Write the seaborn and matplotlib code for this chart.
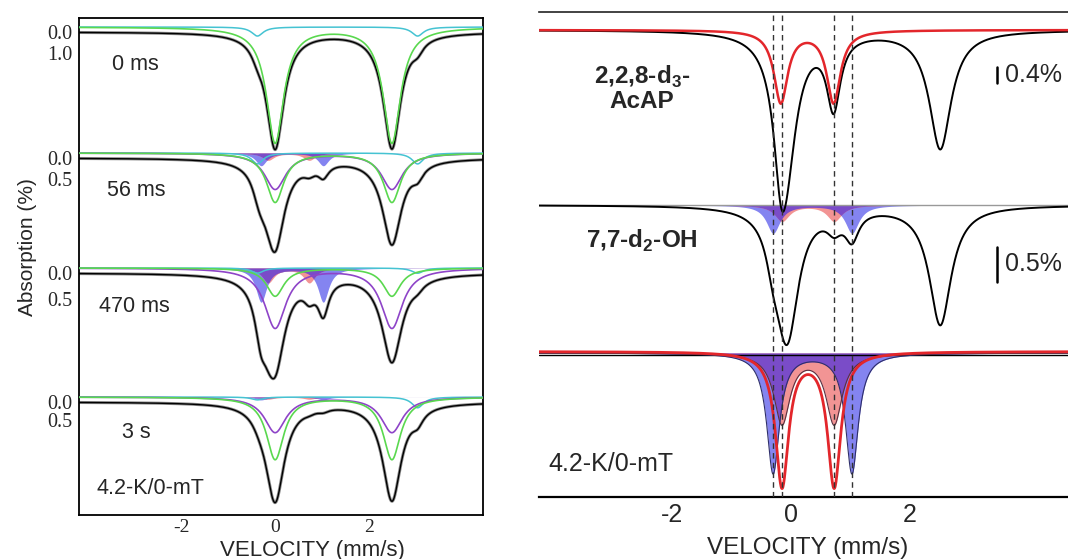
import numpy as np
import seaborn as sns
import matplotlib
matplotlib.use("Agg")
import matplotlib.pyplot as plt

# --- doublet line positions (mm/s) ---
main_lines = [0.0, 2.5]
cyan_lines = [-0.38, 3.05]
blue_lines = [-0.30, 1.03]
red_lines = [-0.15, 0.73]
dashed_lines = [-0.30, -0.15, 0.73, 1.03]

# --- left panel: freeze-quench series, depths in % absorption ---
time_labels = ["0 ms", "56 ms", "470 ms", "3 s"]
green_depth = [5.5, 1.17, 0.54, 1.73]
purple_depth = [0.0, 0.86, 1.15, 0.98]
cyan_depth_lo = [0.43, 0.26, 0.10, 0.08]
cyan_depth_hi = [0.43, 0.26, 0.10, 0.30]
blue_depth = [0.0, 0.30, 0.65, 0.08]
red_depth = [0.0, 0.17, 0.28, 0.06]
scale_tick = [1.0, 0.5, 0.5, 0.5]

# line widths (FWHM, mm/s)
w_green, w_purple, w_cyan, w_blue, w_red = 0.45, 0.55, 0.30, 0.28, 0.30

# --- right panel ---
acap_main = [-0.08, 2.52]
acap_main_depth = 2.95
acap_main_w = 0.45
acap_red = [-0.17, 0.72]
acap_red_depth = 1.8
acap_red_w = 0.28

oh_main = [-0.05, 2.52]
oh_main_depth = 1.7
oh_main_w = 0.45
oh_blue_depth = 0.40
oh_red_depth = 0.23

sim_blue_depth = 1.2
sim_red_fill_depth = 0.7
sim_red_line_depth = 1.34
sim_blue_w, sim_red_fill_w, sim_red_line_w = 0.26, 0.33, 0.27

# colours
c_green = "#5ad84f"
c_purple = "#8e44c8"
c_cyan = "#45c3d2"
c_red = "#e3262b"
c_bfill = "#8484f0"
c_rfill = "#f29494"
c_pfill = "#7a4cc8"


def doublet(v, centers, depths, fwhm):
    if np.isscalar(depths):
        depths = [depths] * len(centers)
    hw = fwhm / 2.0
    out = np.zeros_like(v)
    for c, d in zip(centers, depths):
        out += d / (1.0 + ((v - c) / hw) ** 2)
    return out


def line(ax, x, y, color, lw, z=2):
    sns.lineplot(x=x, y=y, ax=ax, color=color, linewidth=lw, estimator=None,
                 sort=False, legend=False, zorder=z)


def fills(ax, v, y0, s, blue, red):
    ax.fill_between(v, y0, y0 + s * blue, color=c_bfill, lw=0, zorder=1)
    ax.fill_between(v, y0, y0 + s * red, color=c_rfill, lw=0, zorder=1)
    ax.fill_between(v, y0, y0 + s * np.minimum(blue, red), color=c_pfill, lw=0, zorder=1)


sns.set_style("white")
plt.rcParams["font.family"] = ["Liberation Sans", "DejaVu Sans"]
plt.rcParams["mathtext.fontset"] = "custom"
plt.rcParams["mathtext.rm"] = "Liberation Sans"
plt.rcParams["mathtext.bf"] = "Liberation Sans:bold"

fig = plt.figure(figsize=(10.68, 5.59), dpi=100)
axl = fig.add_axes([79 / 1068, 1 - 515 / 559, 404 / 1068, 497 / 559])
axr = fig.add_axes([539 / 1068, 1 - 497 / 559, 529 / 1068, 485 / 559])

v = np.linspace(-4.4, 4.8, 1500)

# ---------------- left panel ----------------
base_l = [14, 140, 255, 384]
px_l = [21, 42, 52, 36]
comp_shift = -5
label_y = [46, 172, 289, 415]
label_x = [-3.49, -3.6, -3.77, -3.28]

for i in range(4):
    y0 = base_l[i]
    s = px_l[i]
    yc = y0 + comp_shift
    green = doublet(v, main_lines, green_depth[i], w_green)
    purple = doublet(v, main_lines, purple_depth[i], w_purple)
    cyan = doublet(v, cyan_lines, [cyan_depth_lo[i], cyan_depth_hi[i]], w_cyan)
    blue = doublet(v, blue_lines, blue_depth[i], w_blue)
    red = doublet(v, red_lines, red_depth[i], w_red)
    total = green + purple + cyan + blue + red

    if blue_depth[i] > 0:
        fills(axl, v, yc, s, blue, red)
    line(axl, v, y0 + s * total, "#8a8a8a", 2.2, z=2)
    line(axl, v, y0 + s * total, "black", 1.0, z=3)
    line(axl, v, yc + s * cyan, c_cyan, 1.1, z=4)
    if purple_depth[i] > 0:
        line(axl, v, yc + s * purple, c_purple, 1.2, z=4)
    line(axl, v, yc + s * green, c_green, 1.2, z=4)
    axl.text(label_x[i], label_y[i], time_labels[i], fontsize=15.5,
             ha="left", va="center")

axl.text(-3.83, 471, "4.2-K/0-mT", fontsize=15.5, ha="left", va="center")

axl.set_xlim(-4.2, 4.45)
axl.set_ylim(497, 0)
axl.set_xticks([-2, 0, 2])
axl.set_xticks([-3, -1, 1, 3], minor=True)
axl.set_xticklabels(["-2", "0", "2"], family="Liberation Serif", fontsize=14)
axl.set_yticks([base_l[i] + scale_tick[i] * px_l[i] for i in range(4)])
axl.set_yticklabels(["%.1f" % t for t in scale_tick], family="Liberation Serif", fontsize=14.5)
axl.set_yticks(base_l, minor=True)
axl.set_yticklabels(["0.0"] * 4, minor=True, family="Liberation Serif", fontsize=14.5)
axl.tick_params(axis="x", which="both", direction="in", length=5, width=1.2, pad=3)
axl.tick_params(axis="y", which="major", direction="out", length=4, width=1.2, pad=1)
axl.tick_params(axis="y", which="minor", length=0, pad=5)
for sp in axl.spines.values():
    sp.set_linewidth(1.3)
    sp.set_color("black")
axl.set_xlabel("VELOCITY (mm/s)", fontsize=16)
axl.xaxis.set_label_coords(0.577, -0.05)
axl.set_ylabel("Absorption (%)", fontsize=15)
axl.yaxis.set_label_coords(-0.104, 0.54)

# ---------------- right panel ----------------
base_r = [18, 193, 341]
px_r = [40, 70, 100]

for x in dashed_lines:
    axr.axvline(x, color="#333333", ls=(0, (4, 3)), lw=1.0, zorder=5)

# top: 2,2,8-d3-AcAP
y0, s = base_r[0], px_r[0]
acap_fit = doublet(v, acap_red, acap_red_depth, acap_red_w)
acap_tot = doublet(v, acap_main, acap_main_depth, acap_main_w) + acap_fit
line(axr, v, y0 + s * acap_tot, "black", 1.4, z=2)
line(axr, v, y0 + s * acap_fit, c_red, 1.8, z=3)

# middle: 7,7-d2-OH
y0, s = base_r[1], px_r[1]
oh_blue = doublet(v, blue_lines, oh_blue_depth, w_blue)
oh_red = doublet(v, red_lines, oh_red_depth, w_red)
oh_tot = doublet(v, oh_main, oh_main_depth, oh_main_w) + oh_blue + oh_red
fills(axr, v, y0, s, oh_blue, oh_red)
axr.axhline(y0, color="#999999", lw=1.0, zorder=1)
line(axr, v, y0 + s * oh_tot, "black", 1.4, z=3)

# bottom: simulated components
y0, s = base_r[2], px_r[2]
sim_blue = doublet(v, blue_lines, sim_blue_depth, sim_blue_w)
sim_red = doublet(v, red_lines, sim_red_fill_depth, sim_red_fill_w)
sim_line = doublet(v, red_lines, sim_red_line_depth, sim_red_line_w)
fills(axr, v, y0, s, sim_blue, sim_red)
line(axr, v, y0 + s * sim_blue, "#2e2e6a", 0.8, z=3)
line(axr, v, y0 + s * sim_red, "#5a3040", 0.8, z=3)
axr.axhline(y0 + 1.5, color="black", lw=1.0, zorder=2)
line(axr, v, y0 - 1.5 + s * sim_line, c_red, 2.0, z=4)

# scale bars
axr.plot([3.48, 3.48], [55, 55 + 0.4 * px_r[0]], color="black", lw=1.8)
axr.text(3.62, 63, "0.4%", fontsize=18, ha="left", va="center")
axr.plot([3.48, 3.48], [235, 235 + 0.5 * px_r[1]], color="black", lw=1.8)
axr.text(3.62, 252, "0.5%", fontsize=18, ha="left", va="center")

axr.text(-2.51, 76, "2,2,8-d$_\\mathbf{3}$-\nAcAP", fontsize=17.5, fontweight="bold",
         ha="center", va="center", multialignment="center", linespacing=1.0)
axr.text(-2.51, 229, "7,7-d$_\\mathbf{2}$-OH", fontsize=17.5, fontweight="bold",
         ha="center", va="center")
axr.text(-4.1, 452, "4.2-K/0-mT", fontsize=18, ha="left", va="center")

axr.set_xlim(-4.25, 4.675)
axr.set_ylim(485, 0)
axr.set_xticks([-2, 0, 2])
axr.set_xticks([-3, -1, 1, 3], minor=True)
axr.set_xticklabels(["-2", "0", "2"], fontsize=18)
axr.set_yticks([])
axr.tick_params(axis="x", which="both", direction="in", length=6.5, width=1.3, pad=4)
axr.spines["left"].set_visible(False)
axr.spines["right"].set_visible(False)
axr.spines["bottom"].set_linewidth(1.6)
axr.spines["bottom"].set_color("black")
axr.spines["top"].set_linewidth(1.2)
axr.spines["top"].set_color("#222222")
axr.set_xlabel("VELOCITY (mm/s)", fontsize=17.5)
axr.xaxis.set_label_coords(0.507, -0.082)

fig.savefig("out.png", dpi=100)
